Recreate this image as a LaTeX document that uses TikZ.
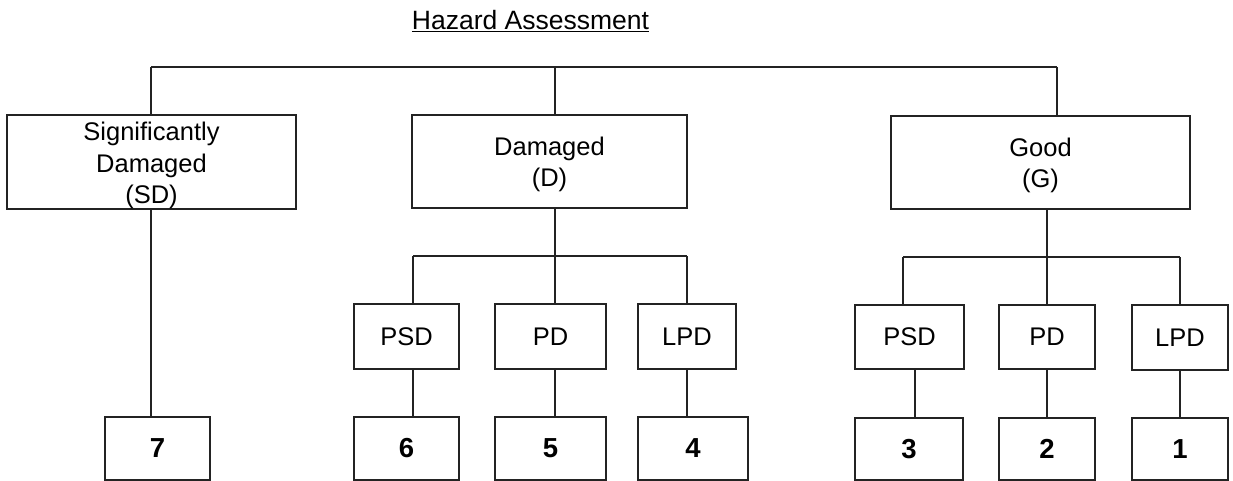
\documentclass[tikz,border=0pt]{standalone}
\usepackage{fontspec}
\setmainfont{Liberation Sans}
\definecolor{ink}{RGB}{35,35,35}
\begin{document}
\begin{tikzpicture}[x=1pt,y=-1pt,
  box/.style={draw=ink, line width=1.6pt, rectangle, inner sep=0pt, outer sep=0pt,
    anchor=north west, align=center, text=black,
    font=\fontsize{25.5}{31.5}\selectfont},
  lbl/.style={inner sep=0pt, outer sep=0pt, align=center, text=black,
    font=\fontsize{25.5}{31.5}\selectfont},
  num/.style={box, font=\fontsize{27.5}{31}\bfseries\selectfont},
  link/.style={draw=ink, line width=1.6pt}]
\useasboundingbox[fill=white] (0,0) rectangle (1233,481);

% title
\node[font=\fontsize{26.5}{32}\selectfont, anchor=base, inner sep=0pt] (title) at (530.5,30) {\underline{Hazard Assessment}};

% level 1
\node[box, minimum width=289pt, minimum height=94pt] (sd) at (7,115) {};
\node[lbl] (sdt) at ([yshift=-3.5pt]sd.center) {Significantly\\Damaged\\(SD)};
\node[box, minimum width=275pt, minimum height=93pt] (d) at (412,115) {};
\node[lbl] (dt) at ([yshift=-3pt]d.center) {Damaged\\(D)};
\node[box, minimum width=299pt, minimum height=93pt] (g) at (891,116) {};
\node[lbl] (gt) at ([yshift=-3pt]g.center) {Good\\(G)};

% level 2
\node[box, minimum width=105pt, minimum height=65pt] (psd1) at (354,304) {PSD};
\node[box, minimum width=111pt, minimum height=65pt] (pd1) at (495,304) {PD};
\node[box, minimum width=98pt, minimum height=65pt] (lpd1) at (638,304) {LPD};
\node[box, minimum width=109pt, minimum height=64pt] (psd2) at (855,305) {PSD};
\node[box, minimum width=96pt, minimum height=64pt] (pd2) at (999,305) {PD};
\node[box, minimum width=96pt, minimum height=65pt] (lpd2) at (1132,305) {LPD};

% level 3
\node[num, minimum width=105pt, minimum height=63pt] (n7) at (105,417) {7};
\node[num, minimum width=105pt, minimum height=63pt] (n6) at (354,417) {6};
\node[num, minimum width=111pt, minimum height=63pt] (n5) at (495,417) {5};
\node[num, minimum width=110pt, minimum height=63pt] (n4) at (638,417) {4};
\node[num, minimum width=108pt, minimum height=62pt] (n3) at (855,418) {3};
\node[num, minimum width=96pt, minimum height=62pt] (n2) at (999,418) {2};
\node[num, minimum width=96pt, minimum height=62pt] (n1) at (1132,418) {1};

% junctions
\coordinate (ja) at (151,67);
\coordinate (jb) at (555,67);
\coordinate (jc) at (1057,67);
\coordinate (kd1) at (413,256);
\coordinate (kd) at (555,256);
\coordinate (kd3) at (687,256);
\coordinate (kg1) at (903,257);
\coordinate (kg) at (1047,257);
\coordinate (kg3) at (1180,257);

% connectors
\draw[link] (ja) -- (jc);
\draw[link] (ja) -- (ja |- sd.north);
\draw[link] (jb) -- (jb |- d.north);
\draw[link] (jc) -- (jc |- g.north);

\draw[link] (sd.south -| ja) -- (n7.north -| ja);

\draw[link] (d.south -| kd) -- (kd);
\draw[link] (kd1) -- (kd3);
\draw[link] (kd1) -- (kd1 |- psd1.north);
\draw[link] (kd) -- (kd |- pd1.north);
\draw[link] (kd3) -- (kd3 |- lpd1.north);
\draw[link] (psd1.south -| kd1) -- (n6.north -| kd1);
\draw[link] (pd1.south -| kd) -- (n5.north -| kd);
\draw[link] (lpd1.south -| kd3) -- (n4.north -| kd3);

\draw[link] (g.south -| kg) -- (kg);
\draw[link] (kg1) -- (kg3);
\draw[link] (kg1) -- (kg1 |- psd2.north);
\draw[link] (kg) -- (kg |- pd2.north);
\draw[link] (kg3) -- (kg3 |- lpd2.north);
\draw[link] ([xshift=5.5pt]psd2.south) -- ([xshift=5.5pt]psd2.south |- n3.north);
\draw[link] (pd2.south -| kg) -- (n2.north -| kg);
\draw[link] (lpd2.south -| kg3) -- (n1.north -| kg3);
\end{tikzpicture}
\end{document}
